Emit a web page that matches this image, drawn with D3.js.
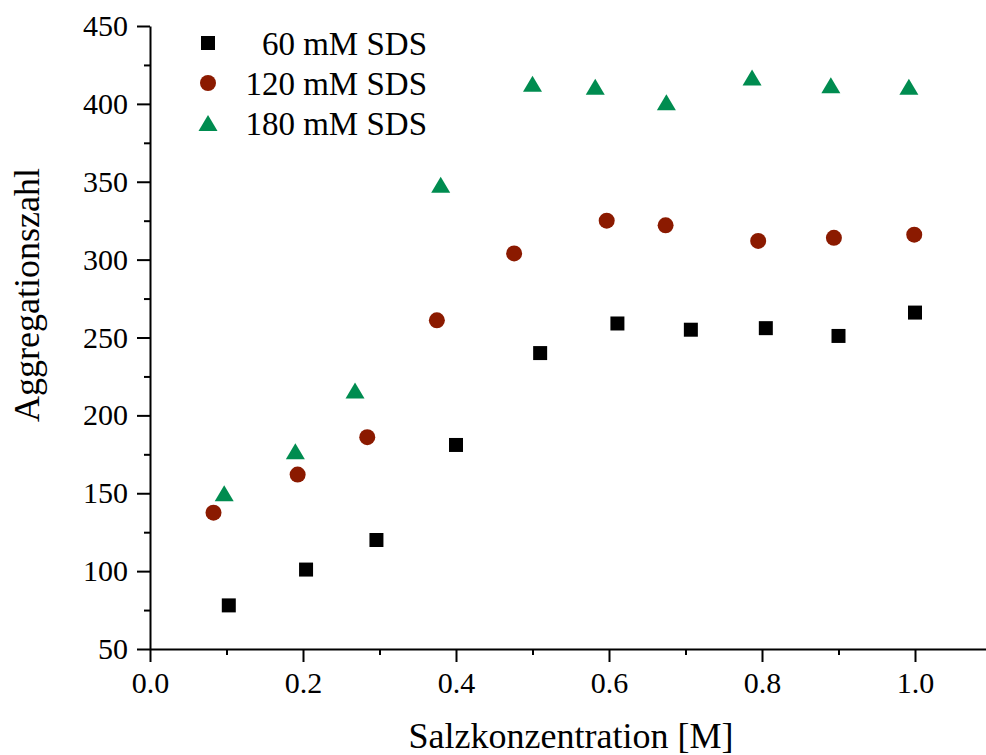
<!DOCTYPE html>
<html>
<head>
<meta charset="utf-8">
<script src="https://cdn.jsdelivr.net/npm/d3@7"></script>
<style>
  body { margin: 0; background: #fff; }
  svg { display: block; font-family: "Liberation Serif", "Times New Roman", serif; }
  .axis path, .axis line { stroke: #000; stroke-width: 2; }
  .axis text { font-family: "Liberation Serif", "Times New Roman", serif; font-size: 30px; fill: #000; }
</style>
</head>
<body>
<svg width="986" height="755"></svg>
<script>
// data
var series = ["60 mM SDS", "120 mM SDS", "180 mM SDS"];

var x60 = [0.103, 0.204, 0.296, 0.400, 0.510, 0.611, 0.707, 0.805, 0.900, 1.000];
var y60 = [78, 101, 120, 181, 240, 259, 255, 256, 251, 266];

var x120 = [0.083, 0.193, 0.284, 0.375, 0.476, 0.597, 0.674, 0.795, 0.894, 0.999];
var y120 = [137.5, 162, 186, 261, 304, 325, 322, 312, 314, 316];

var x180 = [0.097, 0.190, 0.268, 0.380, 0.500, 0.582, 0.675, 0.787, 0.890, 0.992];
var y180 = [150, 177, 216, 348, 413, 411, 401, 417, 412, 411];

var xTicks = [0, 0.2, 0.4, 0.6, 0.8, 1.0];
var yTicks = [50, 100, 150, 200, 250, 300, 350, 400, 450];

var svg = d3.select("svg");

var x = d3.scaleLinear().domain([0, 1.1]).range([150, 991.5]);
var y = d3.scaleLinear().domain([50, 450]).range([649, 26]);

var colors = ["#000000", "#8b1a00", "#008c50"];

// triangle centred on its bounding box, like the original markers
var triangle = {
  draw: function(ctx, size) {
    ctx.moveTo(0, -8);
    ctx.lineTo(9.5, 8);
    ctx.lineTo(-9.5, 8);
    ctx.closePath();
  }
};
var shapes = [
  d3.symbol().type(d3.symbolSquare).size(196),
  d3.symbol().type(d3.symbolCircle).size(201),
  d3.symbol().type(triangle)
];

// minor ticks
svg.append("g")
    .attr("class", "axis")
    .attr("transform", "translate(0,649)")
    .call(d3.axisBottom(x).tickValues(d3.range(0.1, 1.1, 0.2)).tickSize(6).tickSizeOuter(0).tickFormat(""))
    .select(".domain").remove();

svg.append("g")
    .attr("class", "axis")
    .attr("transform", "translate(150,0)")
    .call(d3.axisLeft(y).tickValues(d3.range(75, 450, 50)).tickSize(6).tickSizeOuter(0).tickFormat(""))
    .select(".domain").remove();

// major axes
svg.append("g")
    .attr("class", "axis")
    .attr("transform", "translate(0,649)")
    .call(d3.axisBottom(x).tickValues(xTicks).tickSize(13).tickSizeOuter(0).tickPadding(10).tickFormat(d3.format(".1f")));

svg.append("g")
    .attr("class", "axis")
    .attr("transform", "translate(150,0)")
    .call(d3.axisLeft(y).tickValues(yTicks).tickSize(13).tickSizeOuter(0).tickPadding(9));

// axis titles
svg.append("text")
    .attr("x", 571)
    .attr("y", 748)
    .attr("text-anchor", "middle")
    .style("font-size", "36px")
    .text("Salzkonzentration [M]");

svg.append("text")
    .attr("transform", "translate(39,295) rotate(-90)")
    .attr("text-anchor", "middle")
    .style("font-size", "36px")
    .text("Aggregationszahl");

// points
var data = [
  x60.map(function(d, i) { return [d, y60[i]]; }),
  x120.map(function(d, i) { return [d, y120[i]]; }),
  x180.map(function(d, i) { return [d, y180[i]]; })
];

data.forEach(function(pts, s) {
  svg.append("g")
    .selectAll("path")
    .data(pts)
    .enter().append("path")
      .attr("transform", function(d) { return "translate(" + x(d[0]) + "," + y(d[1]) + ")"; })
      .attr("d", shapes[s]())
      .attr("fill", colors[s]);
});

// legend
var legend = svg.append("g")
  .selectAll("g")
  .data(series)
  .enter().append("g")
    .attr("transform", function(d, i) { return "translate(0," + (43 + i * 40) + ")"; });

legend.append("path")
    .attr("transform", "translate(208,0)")
    .attr("d", function(d, i) { return shapes[i](); })
    .attr("fill", function(d, i) { return colors[i]; });

legend.append("text")
    .attr("x", 427)
    .attr("y", 12)
    .attr("text-anchor", "end")
    .style("font-size", "33px")
    .text(function(d) { return d; });
</script>
</body>
</html>
